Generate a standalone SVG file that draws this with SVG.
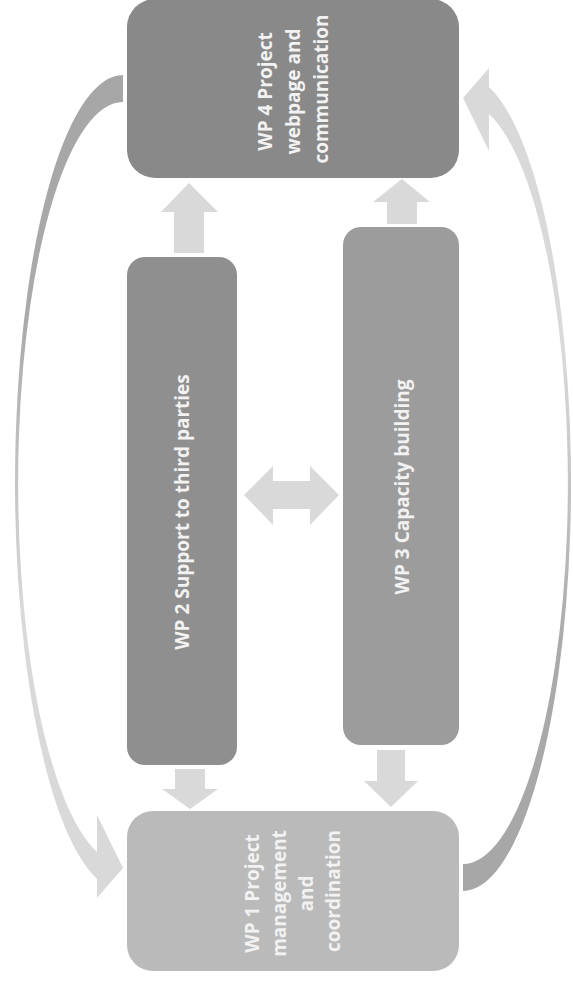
<svg xmlns="http://www.w3.org/2000/svg" width="573" height="981" viewBox="0 0 573 981">
  <style>
    .lbl { font-family: "Open Sans", "Noto Sans", "Liberation Sans", sans-serif; font-weight: bold; font-size: 19px; fill: #f2f2f2; text-anchor: middle; }
    .blk { fill: #d9d9d9; }
  </style>
  <defs>
    <linearGradient id="arcGrad" x1="0" y1="0" x2="0" y2="1">
      <stop offset="0" stop-color="#a6a6a6"/>
      <stop offset="0.3" stop-color="#aaaaaa"/>
      <stop offset="0.65" stop-color="#d9d9d9"/>
      <stop offset="1" stop-color="#d9d9d9"/>
    </linearGradient>
    <path id="curvedArrow" d="M 123 75 A 108 408 0 0 0 97 879 L 97 898 L 123 868 L 97 815 L 97 852 A 105 381 0 0 1 123 102 Z"/>
  </defs>
  <rect width="573" height="981" fill="#ffffff"/>

  <g id="connectors">
    <use href="#curvedArrow" fill="url(#arcGrad)"/>
    <use href="#curvedArrow" fill="url(#arcGrad)" transform="rotate(180 293 483)"/>
    <polygon class="blk" points="189,183 218,212 204,212 204,253 174,253 174,212 161,212"/>
    <polygon class="blk" points="402,179 430,202 417,202 417,224 387,224 387,202 373,202"/>
    <polygon class="blk" points="175,769 205,769 205,789 218,789 190,809 162,789 175,789"/>
    <polygon class="blk" points="377,750 405,750 405,781 418,781 391,807 364,781 377,781"/>
    <polygon class="blk" points="244,495 273,466 273,481 310,481 310,466 339,495 310,525 310,509 273,509 273,525"/>
  </g>

  <g id="wp4">
    <rect x="127" y="-1" width="332" height="179" rx="28" fill="#898989"/>
    <text class="lbl" transform="translate(293 89) rotate(-90)">
      <tspan x="0" y="-21">WP 4 Project</tspan>
      <tspan x="0" y="7">webpage and</tspan>
      <tspan x="0" y="35">communication</tspan>
    </text>
  </g>

  <g id="wp2">
    <rect x="127" y="257" width="110" height="508" rx="18" fill="#8f8f8f"/>
    <text class="lbl" transform="translate(183 512) rotate(-90)" y="6">WP 2 Support to third parties</text>
  </g>

  <g id="wp3">
    <rect x="343" y="227" width="116" height="518" rx="18" fill="#9c9c9c"/>
    <text class="lbl" transform="translate(403 487) rotate(-90)" y="6">WP 3 Capacity building</text>
  </g>

  <g id="wp1">
    <rect x="127" y="811" width="332" height="160" rx="26" fill="#bababa"/>
    <text class="lbl" transform="translate(293 891) rotate(-90)">
      <tspan x="0" y="-34">WP 1 Project</tspan>
      <tspan x="0" y="-7">management</tspan>
      <tspan x="0" y="20">and</tspan>
      <tspan x="0" y="47">coordination</tspan>
    </text>
  </g>
</svg>
